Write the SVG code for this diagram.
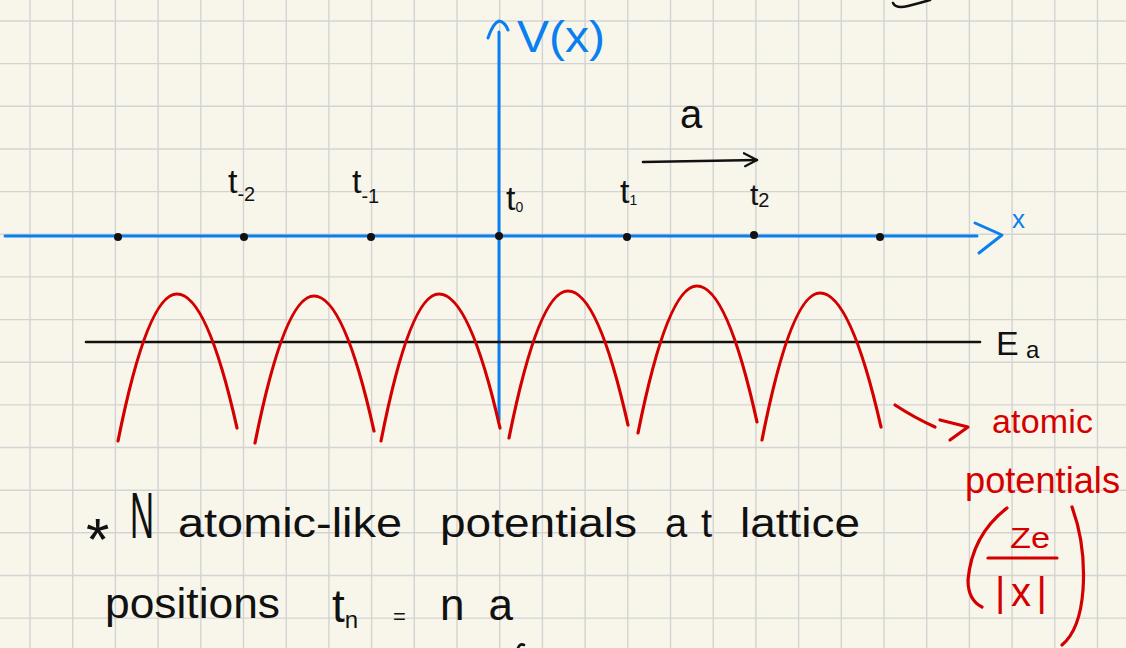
<svg xmlns="http://www.w3.org/2000/svg" width="1126" height="648" viewBox="0 0 1126 648">
<style>
.grid{stroke:#d3d3d3;stroke-width:1.4;fill:none}
.blue{stroke:#0a7ff0;stroke-width:3;fill:none;stroke-linecap:round;stroke-linejoin:round}
.red{stroke:#d40000;stroke-width:3.2;fill:none;stroke-linecap:round;stroke-linejoin:round}
.blk{stroke:#111;stroke-width:2.6;fill:none;stroke-linecap:round;stroke-linejoin:round}
.hand{font-family:"Liberation Sans","DejaVu Sans",sans-serif;fill:#111}
.rt{fill:#d40000}
.bt{fill:#0a7ff0}
.dot{fill:#111}
</style>
<defs>
<marker id="chev" viewBox="0 0 16 16" refX="14" refY="8" markerWidth="16" markerHeight="16" markerUnits="userSpaceOnUse" orient="auto">
<path d="M1 1 L14 8 L2 14" fill="none" stroke="#111" stroke-width="2.2" stroke-linecap="round" stroke-linejoin="round"/>
</marker>
</defs>
<rect width="1126" height="648" fill="#f8f6ea"/>
<g id="grid">
<path class="grid" d="M30 0V648M72.7 0V648M115.4 0V648M158.1 0V648M200.8 0V648M243.5 0V648M286.2 0V648M328.9 0V648M371.6 0V648M414.3 0V648M457 0V648M499.7 0V648M542.4 0V648M585.1 0V648M627.8 0V648M670.5 0V648M713.2 0V648M755.9 0V648M798.6 0V648M841.3 0V648M884 0V648M926.7 0V648M969.4 0V648M1012.1 0V648M1054.8 0V648M1097.5 0V648"/>
<path class="grid" d="M0 21H1126M0 63.65H1126M0 106.3H1126M0 149H1126M0 191.6H1126M0 234.3H1126M0 276.9H1126M0 319.6H1126M0 362.2H1126M0 404.9H1126M0 447.5H1126M0 490.2H1126M0 532.8H1126M0 575.5H1126M0 618.1H1126"/>
</g>
<g id="axes">
<path class="blue" d="M5 236 L977 236"/>
<path class="blue" d="M975 223 L1002 235 L979 253"/>
<path class="blue" d="M499 420 L499 32"/>
<path class="blue" d="M488 38 Q493 23 499 21 Q505 22 508 30"/>
<text class="hand bt" x="517" y="52" font-size="44" textLength="88" lengthAdjust="spacingAndGlyphs">V(x)</text>
<text class="hand bt" x="1012" y="228" font-size="26">x</text>
</g>
<g id="energy-level">
<path class="blk" d="M86 342 L980 342"/>
<text class="hand" x="996" y="355" font-size="34">E</text>
<text class="hand" x="1026" y="358" font-size="24">a</text>
</g>
<g id="lattice-points">
<circle class="dot" cx="118" cy="237" r="4"/>
<circle class="dot" cx="244" cy="237" r="4"/>
<circle class="dot" cx="371" cy="237" r="4"/>
<circle class="dot" cx="499" cy="236" r="4"/>
<circle class="dot" cx="627" cy="237" r="4"/>
<circle class="dot" cx="754" cy="235" r="4"/>
<circle class="dot" cx="880" cy="237" r="4"/>
<text class="hand" x="228" y="193" font-size="34">t<tspan font-size="20" dy="8">-2</tspan></text>
<text class="hand" x="352" y="193" font-size="34">t<tspan font-size="20" dy="10">-1</tspan></text>
<text class="hand" x="506" y="210" font-size="34">t<tspan font-size="14" dy="2">0</tspan></text>
<text class="hand" x="620" y="203" font-size="34">t<tspan font-size="14" dy="2">1</tspan></text>
<text class="hand" x="750" y="205" font-size="30">t<tspan font-size="20" dy="2">2</tspan></text>
</g>
<g id="spacing">
<path class="blk" d="M643 162 L757 160" marker-end="url(#chev)"/>
<text class="hand" x="680" y="128" font-size="40">a</text>
</g>
<g id="potentials">
<path class="red" d="M118 441 Q147.5 294 177 294 Q207 294 237 428"/>
<path class="red" d="M255 443 Q284.5 296 314 296 Q344 296 374 431"/>
<path class="red" d="M381 441 Q410 294 439 294 Q469.5 294 500 428"/>
<path class="red" d="M509 438 Q538.5 291 568 291 Q598 291 628 425"/>
<path class="red" d="M638 433 Q667.5 286 697 286 Q727 286 757 422"/>
<path class="red" d="M762 440 Q791 293 820 293 Q850.5 293 881 427"/>
</g>
<g id="annotation">
<path class="red" d="M895 405 Q915 418 935 427"/>
<path class="red" d="M940 420 L968 427 L950 440"/>
<text class="hand rt" x="992" y="433" font-size="34" textLength="101">atomic</text>
<text class="hand rt" x="965" y="493" font-size="36" textLength="155" lengthAdjust="spacingAndGlyphs">potentials</text>
<path class="red" d="M1007 508 Q972 535 968 580 Q968 600 982 607"/>
<path class="red" d="M1072 507 Q1086 545 1083 590 Q1080 630 1062 645"/>
<text class="hand rt" x="1010" y="548" font-size="30" textLength="40" lengthAdjust="spacingAndGlyphs">Ze</text>
<path class="red" d="M988 558 L1057 558"/>
<text class="hand rt" x="995" y="606" font-size="40" textLength="52">|x|</text>
</g>
<g id="notes">
<text class="hand" x="86" y="560" font-size="60">*</text>
<text class="hand" x="130" y="538" font-size="64" textLength="24" lengthAdjust="spacingAndGlyphs">N</text>
<text class="hand" x="178" y="537" font-size="40" textLength="224" lengthAdjust="spacingAndGlyphs">atomic-like</text>
<text class="hand" x="440" y="537" font-size="40" textLength="197" lengthAdjust="spacingAndGlyphs">potentials</text>
<text class="hand" x="665" y="537" font-size="40" textLength="47">at</text>
<text class="hand" x="740" y="537" font-size="40" textLength="120" lengthAdjust="spacingAndGlyphs">lattice</text>
<text class="hand" x="105" y="618" font-size="42" textLength="175" lengthAdjust="spacingAndGlyphs">positions</text>
<text class="hand" x="332" y="622" font-size="46">t<tspan font-size="24" dy="6">n</tspan></text>
<text class="hand" x="393" y="624" font-size="22">=</text>
<text class="hand" x="440" y="620" font-size="44" textLength="73">na</text>
</g>
<g id="marks">
<path class="blk" d="M893 3 Q896 9 908 6 Q920 3 930 0"/>
<path class="blk" d="M518 648 Q520 643 524 645"/>
</g>
</svg>
